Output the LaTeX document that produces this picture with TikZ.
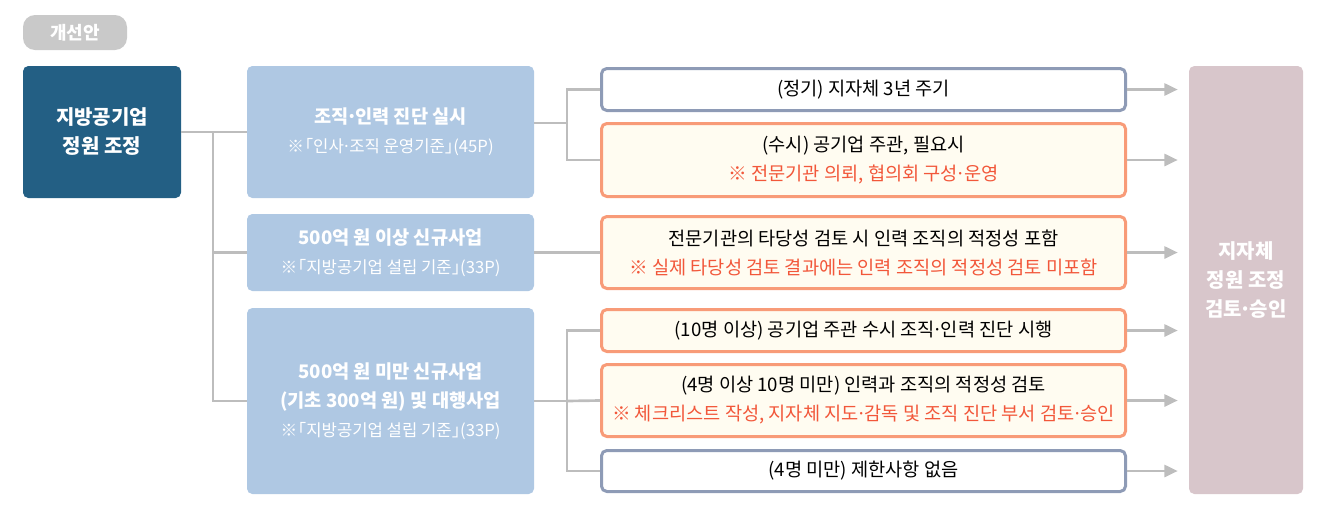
\documentclass[tikz,border=0pt]{standalone}
\usepackage{fontspec}
\setmainfont{Noto Sans CJK KR}
\usepackage{tikz}
\usetikzlibrary{arrows.meta,positioning,calc}
\definecolor{mainblue}{HTML}{235F84}
\definecolor{paleblue}{HTML}{AFC8E3}
\definecolor{linegray}{HTML}{BDBDBD}
\definecolor{slateblue}{HTML}{8E9BB6}
\definecolor{coral}{HTML}{F89B78}
\definecolor{cream}{HTML}{FFFCF1}
\definecolor{notered}{HTML}{F2573A}
\definecolor{mauve}{HTML}{D8C6CB}
\definecolor{tagray}{HTML}{C9C9C9}
\newcommand{\px}{0.75pt}
\newcommand{\md}{\kern-0.12em·\kern-0.12em}
\newcommand{\opbr}{\kern-0.45em「}
\newcommand{\clbr}{」\kern-0.5em}
\newcommand{\notered}[1]{{\color{notered}#1}}
\newcommand{\refnote}[1]{{\fontsize{12.5}{21.75}\selectfont\mdseries #1}}
\tikzset{
  tagbox/.style={fill=tagray,rounded corners=9pt,text=white,align=center,
    minimum width=104*\px,minimum height=35*\px,inner sep=0pt,
    font=\fontsize{13.5}{16}\selectfont\bfseries},
  mainbox/.style={fill=mainblue,rounded corners=4pt,text=white,align=center,
    minimum width=158*\px,minimum height=132*\px,inner sep=0pt,
    font=\fontsize{15}{21.75}\selectfont\bfseries},
  casebox/.style={fill=paleblue,rounded corners=4pt,text=white,align=center,
    minimum width=287*\px,inner sep=0pt,
    font=\fontsize{14}{21.75}\selectfont\bfseries},
  plainbox/.style={draw=slateblue,line width=2.25pt,fill=white,rounded corners=4pt,
    align=center,minimum width=524*\px,inner sep=0pt,
    font=\fontsize{14}{21.75}\selectfont},
  notebox/.style={plainbox,draw=coral,fill=cream},
  resultbox/.style={fill=mauve,rounded corners=4pt,text=white,align=center,
    minimum width=114*\px,minimum height=428*\px,inner sep=0pt,
    font=\fontsize{15}{21.75}\selectfont\bfseries},
  linkline/.style={draw=linegray,line width=2pt},
  flowarrow/.style={draw=linegray,line width=2pt,-{Triangle[length=10pt,width=9pt]},
    shorten >=8.25pt}
}

\begin{document}
\begin{tikzpicture}[x=0.75pt,y=-0.75pt]
  \useasboundingbox (0,0) rectangle (1327,511);
  \node[tagbox] (tag) at (75,32.5) {개선안};
  \node[mainbox] (quota) at (102,132) {지방공기업\\정원 조정};

  \node[casebox,minimum height=132*\px] (diag) at (390.5,132)
    {조직\md 인력 진단 실시\\\refnote{※\opbr 인사\md 조직 운영기준\clbr(45P)}};
  \node[casebox,minimum height=77*\px] (large) at (390.5,252.5)
    {500억 원 이상 신규사업\\\refnote{※\opbr 지방공기업 설립 기준\clbr(33P)}};
  \node[casebox,minimum height=186*\px] (minor) at (390.5,401)
    {500억 원 미만 신규사업\\(기초 300억 원) 및 대행사업\\\refnote{※\opbr 지방공기업 설립 기준\clbr(33P)}};

  \node[plainbox,minimum height=42*\px] (regular) at (863.5,89.5) {(정기) 지자체 3년 주기};
  \node[notebox,minimum height=73*\px] (adhoc) at (863.5,160)
    {(수시) 공기업 주관, 필요시\\\notered{※ 전문기관 의뢰, 협의회 구성\md 운영}};
  \node[notebox,minimum height=72*\px] (feasible) at (863.5,252.5)
    {전문기관의 타당성 검토 시 인력 조직의 적정성 포함\\\notered{※ 실제 타당성 검토 결과에는 인력 조직의 적정성 검토 미포함}};
  \node[notebox,minimum height=42*\px] (over10) at (863.5,330.5)
    {(10명 이상) 공기업 주관 수시 조직\md 인력 진단 시행};
  \node[notebox,minimum height=72*\px] (from4) at (863.5,400.5)
    {(4명 이상 10명 미만) 인력과 조직의 적정성 검토\\\notered{※ 체크리스트 작성, 지자체 지도\md 감독 및 조직 진단 부서 검토\md 승인}};
  \node[plainbox,minimum height=41*\px] (under4) at (863.5,471) {(4명 미만) 제한사항 없음};

  \node[resultbox] (approve) at (1246,280) {지자체\\정원 조정\\검토\md 승인};

  \coordinate (trunk) at (213,132);
  \coordinate (fork1) at (567,123);
  \coordinate (fork2) at (567,401);
  \draw[linkline] (quota.east) -- (diag.west);
  \draw[linkline] (trunk) |- (large.west);
  \draw[linkline] (trunk) |- (minor.west);
  \draw[linkline] (fork1 -| diag.east) -- (fork1);
  \draw[linkline] (fork1) |- (regular.west);
  \draw[linkline] (fork1) |- (adhoc.west);
  \draw[linkline] (large.east) -- (feasible.west);
  \draw[linkline] (minor.east) -- (fork2);
  \draw[linkline] (fork2) |- (over10.west);
  \draw[linkline] (fork2) -- (from4.west);
  \draw[linkline] (fork2) |- (under4.west);

  \foreach \src in {regular,adhoc,feasible,over10,from4,under4}
    \draw[flowarrow] (\src.east) -- (\src.east -| approve.west);
\end{tikzpicture}
\end{document}
